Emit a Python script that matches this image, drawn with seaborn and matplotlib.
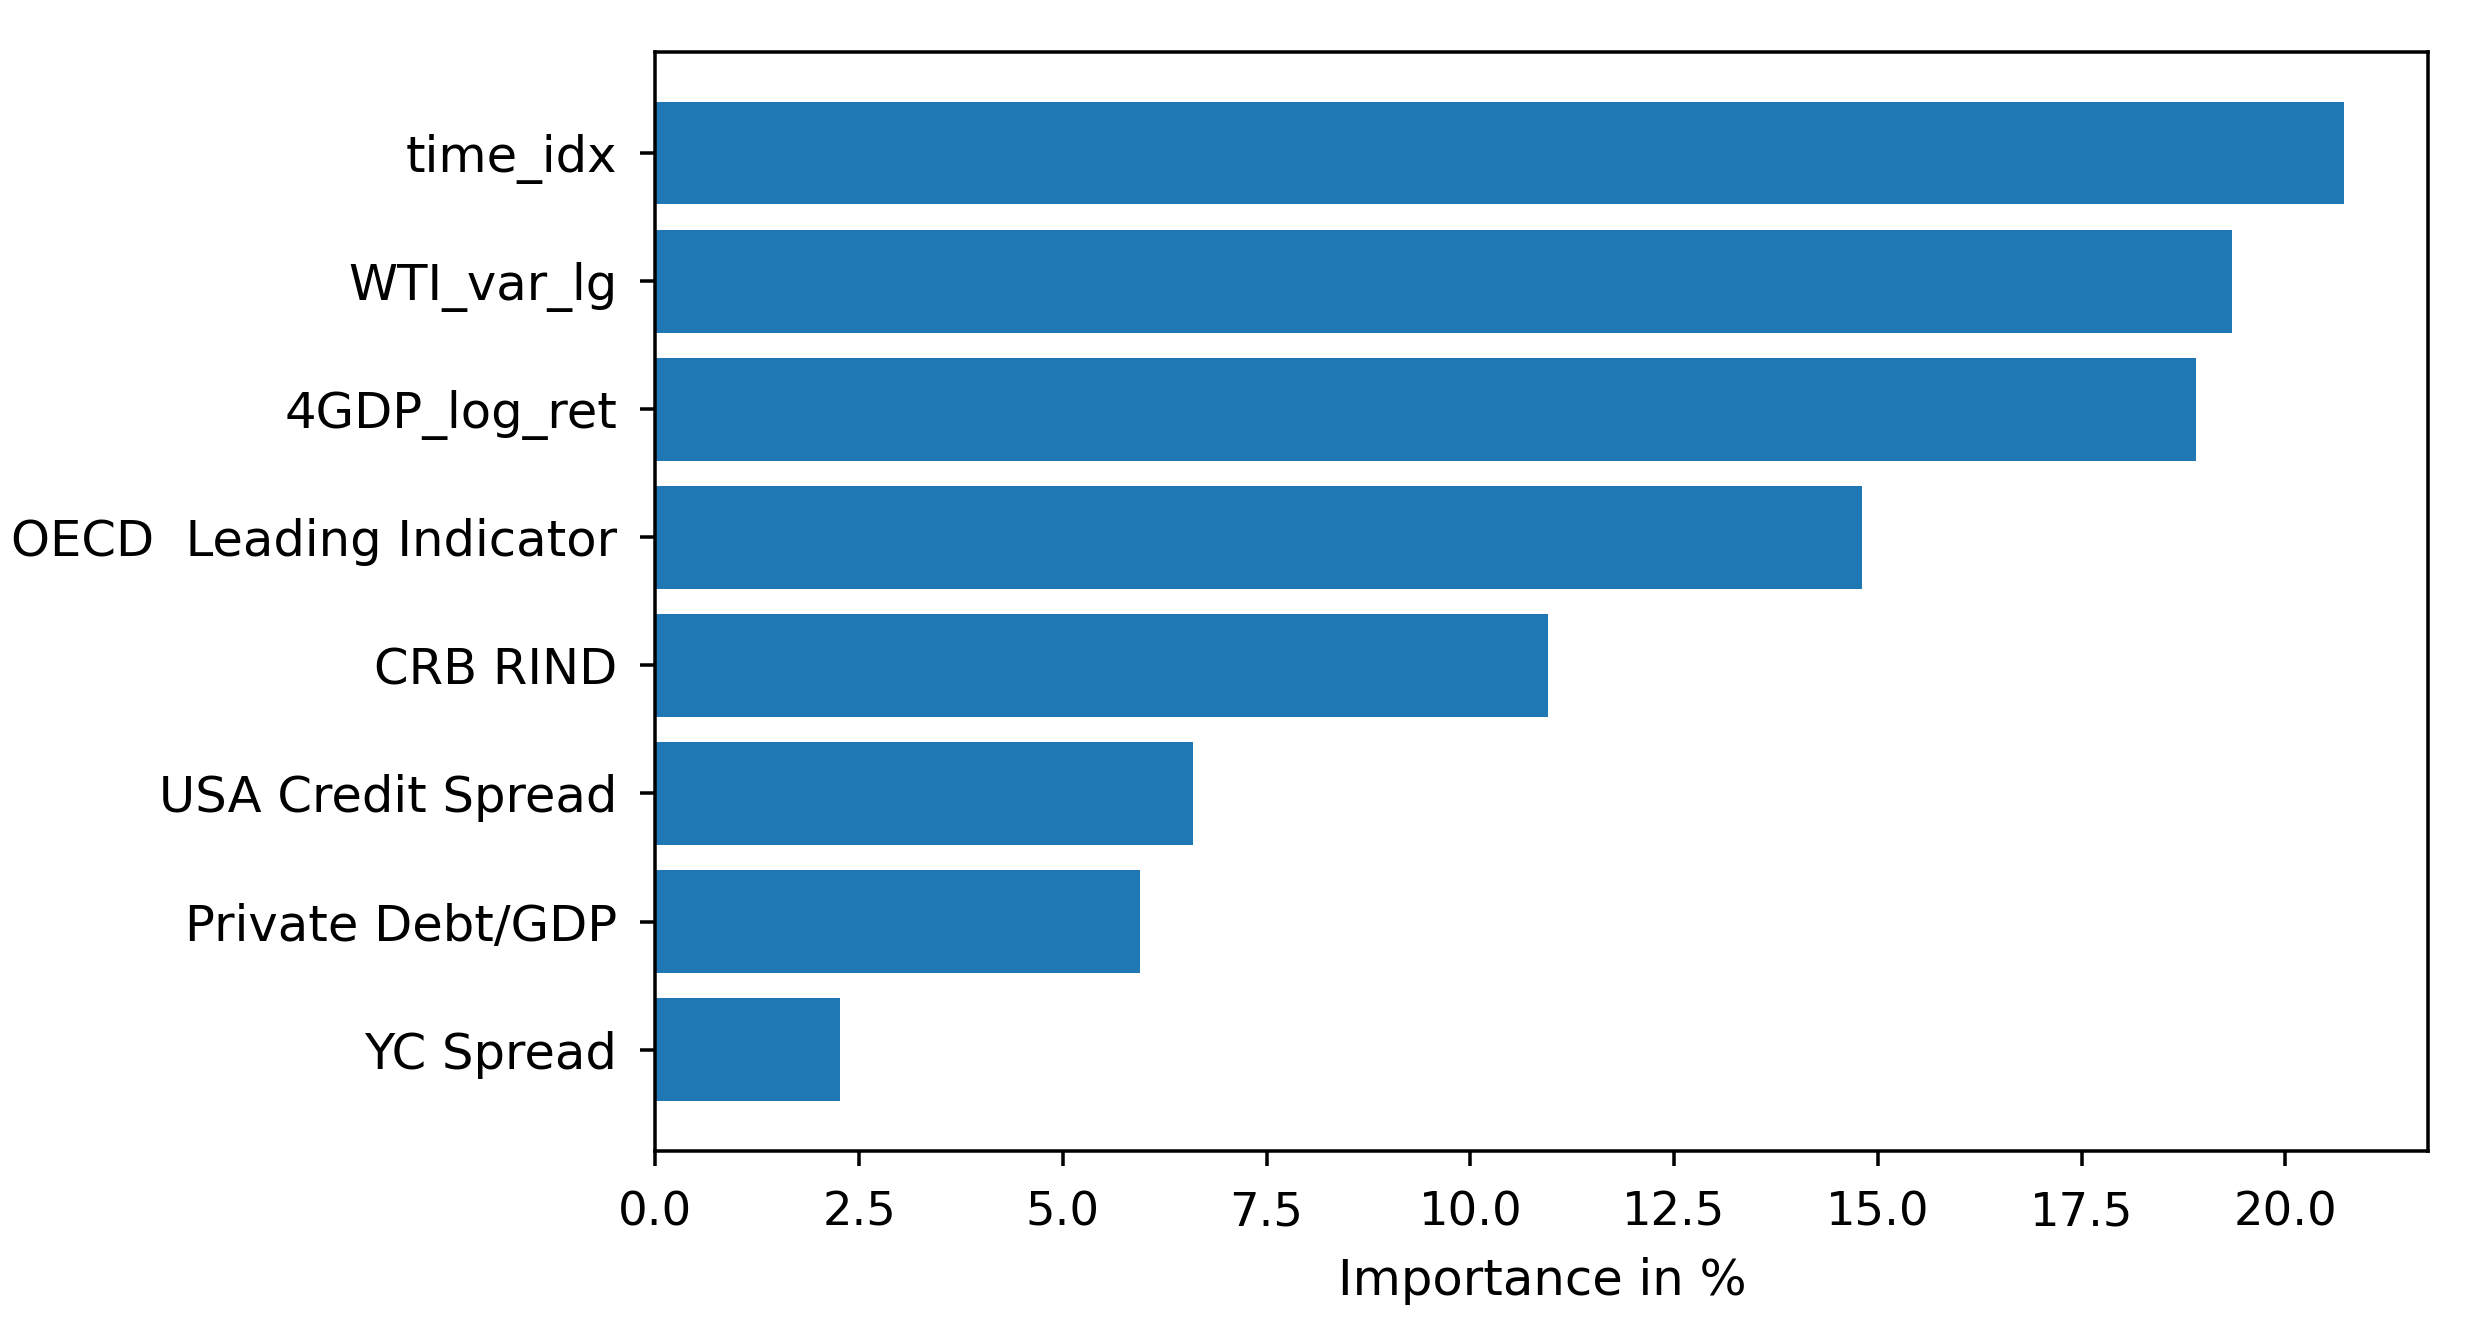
import pandas as pd
import matplotlib
matplotlib.use("Agg")
import matplotlib.pyplot as plt
import seaborn as sns

features = ["time_idx", "WTI_var_lg", "4GDP_log_ret", "OECD  Leading Indicator",
            "CRB RIND", "USA Credit Spread", "Private Debt/GDP", "YC Spread"]
importance = [20.72, 19.35, 18.9, 14.8, 10.95, 6.6, 5.95, 2.27]

df = pd.DataFrame({"feature": features, "importance": importance})

plt.rcParams["font.family"] = ["DejaVu Sans"]
plt.rcParams["font.size"] = 10

fig = plt.figure(figsize=(2473 / 316, 1335 / 316), dpi=316)
ax = fig.add_axes([0.265, 0.138, 0.717, 0.823])

sns.barplot(data=df, x="importance", y="feature", orient="h", color="#1f77b4",
            saturation=1, width=0.8, linewidth=0, ax=ax)

ax.set_ylim(7.79, -0.79)
ax.set_xlabel("Importance in %", fontsize=11.3, labelpad=5)
ax.set_ylabel("")
ax.tick_params(axis="y", labelsize=11.3, pad=5.2)
ax.tick_params(axis="x", labelsize=10.6, pad=5.5)

fig.savefig("out.png", dpi=316)
